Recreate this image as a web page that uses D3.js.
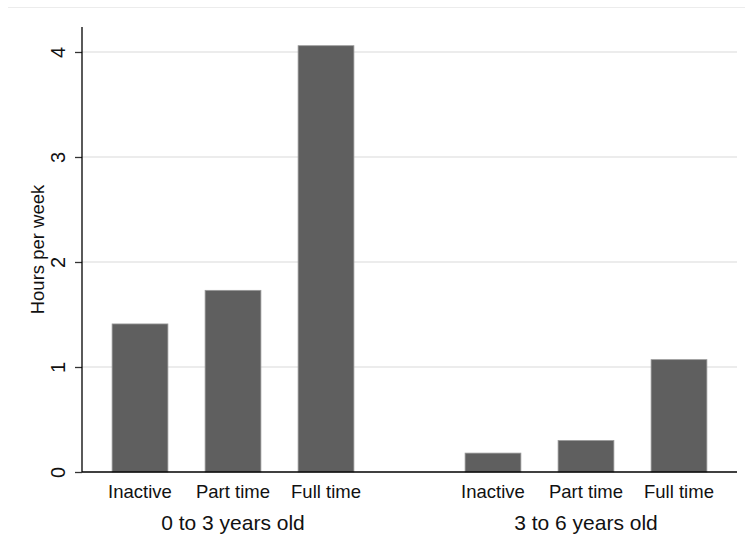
<!DOCTYPE html>
<html>
<head>
<meta charset="utf-8">
<script src="https://cdn.jsdelivr.net/npm/d3@7"></script>
<style>
  html, body { margin: 0; padding: 0; background: #fff; }
  svg { display: block; }
  text { font-family: "Liberation Sans", Arial, sans-serif; fill: #111; }
</style>
</head>
<body>
<svg id="chart" width="745" height="548"></svg>
<script>
const groups = ["0 to 3 years old", "3 to 6 years old"];
const categories = ["Inactive", "Part time", "Full time"];
const values0to3 = [1.41, 1.73, 4.06];
const values3to6 = [0.18, 0.30, 1.07];
const yTicks = [0, 1, 2, 3, 4];
const yLabel = "Hours per week";

const seriesByGroup = [values0to3, values3to6];
const data = [];
groups.forEach((g, gi) => categories.forEach((c, ci) => data.push({ group: g, cat: c, value: seriesByGroup[gi][ci] })));

const W = 745, H = 548;
const plot = { left: 82, right: 737, top: 27, bottom: 472 };

const svg = d3.select("#chart");

// top frame line
svg.append("line")
  .attr("x1", 8).attr("x2", W).attr("y1", 7.5).attr("y2", 7.5)
  .attr("stroke", "#ececec").attr("stroke-width", 1.2);

const y = d3.scaleLinear().domain([0, 4.238]).range([plot.bottom, plot.top]);

const x0 = d3.scaleBand().domain(groups)
  .range([plot.left, plot.right])
  .paddingInner(0.2096).paddingOuter(0.0326);
const x1 = d3.scaleBand().domain(categories)
  .range([0, x0.bandwidth()])
  .paddingInner(0.4).paddingOuter(0.2);

// gridlines
svg.append("g").selectAll("line")
  .data(yTicks.filter(t => t > 0))
  .join("line")
  .attr("x1", plot.left).attr("x2", plot.right)
  .attr("y1", d => y(d)).attr("y2", d => y(d))
  .attr("stroke", "#e6e6e6").attr("stroke-width", 1.5);

// bars
svg.append("g").selectAll("rect")
  .data(data)
  .join("rect")
  .attr("x", d => x0(d.group) + x1(d.cat))
  .attr("width", x1.bandwidth())
  .attr("y", d => y(d.value))
  .attr("height", d => y(0) - y(d.value))
  .attr("fill", "#5f5f5f")
  .attr("stroke", "#9a9a9a")
  .attr("stroke-width", 0.8);

// y axis
const yAxis = d3.axisLeft(y).tickValues(yTicks).tickSize(7).tickPadding(10).tickFormat(d3.format("d"));
const gy = svg.append("g").attr("transform", `translate(${plot.left},0)`).call(yAxis);
gy.select(".domain").remove();
gy.append("line").attr("x1", 0).attr("x2", 0).attr("y1", plot.top).attr("y2", plot.bottom)
  .attr("stroke", "#000").attr("stroke-width", 1.3);
gy.selectAll(".tick line").attr("stroke", "#333").attr("stroke-width", 1.3);
gy.selectAll(".tick text")
  .attr("x", null).attr("dy", null)
  .attr("transform", "translate(-17,0) rotate(-90)")
  .attr("text-anchor", "middle")
  .attr("font-size", 20)
  .attr("fill", "#111")
  .style("font-family", '"Liberation Sans", Arial, sans-serif');

// x axis line
svg.append("line")
  .attr("x1", plot.left).attr("x2", plot.right)
  .attr("y1", plot.bottom).attr("y2", plot.bottom)
  .attr("stroke", "#000").attr("stroke-width", 1.3);

// category labels
svg.append("g").selectAll("text")
  .data(data)
  .join("text")
  .attr("x", d => x0(d.group) + x1(d.cat) + x1.bandwidth() / 2)
  .attr("y", 498)
  .attr("text-anchor", "middle")
  .attr("font-size", 18.5)
  .text(d => d.cat);

// group labels
svg.append("g").selectAll("text")
  .data(groups)
  .join("text")
  .attr("x", d => x0(d) + x0.bandwidth() / 2)
  .attr("y", 529.5)
  .attr("text-anchor", "middle")
  .attr("font-size", 21)
  .text(d => d);

// y axis title
svg.append("text")
  .attr("transform", `translate(44,${(plot.top + plot.bottom) / 2}) rotate(-90)`)
  .attr("text-anchor", "middle")
  .attr("font-size", 18.5)
  .text(yLabel);
</script>
</body>
</html>
